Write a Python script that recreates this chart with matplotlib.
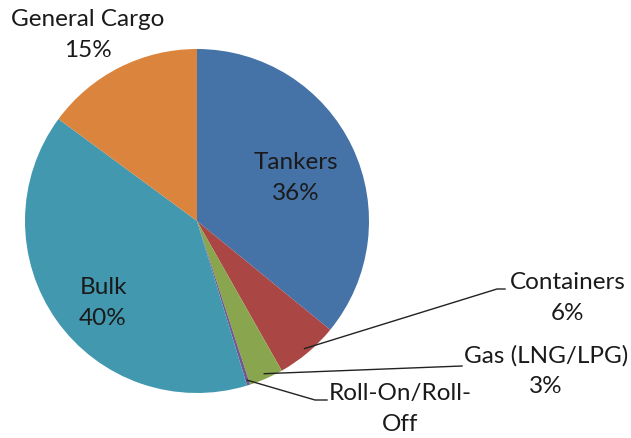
import matplotlib
matplotlib.use('Agg')
import matplotlib.pyplot as plt
import numpy as np

# cargo share of the fleet
categories = ['Tankers', 'Containers', 'Gas (LNG/LPG)', 'Roll-On/Roll-Off', 'Bulk', 'General Cargo']
shares = [35.9, 5.9, 3.2, 0.3, 39.8, 14.9]
labels = ['Tankers\n36%', 'Containers\n6%', 'Gas (LNG/LPG)\n3%', 'Roll-On/Roll-\nOff', 'Bulk\n40%', 'General Cargo\n15%']
colors = ['#4572A7', '#AA4643', '#89A54E', '#71588F', '#4198AF', '#DB843D']

W, H = 631, 438
fig = plt.figure(figsize=(W / 100, H / 100), dpi=100)
ax = fig.add_axes([0, 0, 1, 1])

cx, cy, r = 197, H - 221, 172
wedges, _ = ax.pie(shares, colors=colors, startangle=90, counterclock=False,
                   center=(cx, cy), radius=r, frame=True,
                   wedgeprops=dict(linewidth=0))
ax.set_xlim(0, W)
ax.set_ylim(0, H)
ax.set_aspect('equal')
ax.axis('off')

font = dict(family=['Lato', 'DejaVu Sans'], fontsize=17.5, color='#1a1a1a',
            ha='center', va='center', linespacing=1.6)

# label placement (pixel coords from top), leader elbow if outside
place = {
    'Tankers': (296, 178, None),
    'Bulk': (103, 303, None),
    'General Cargo': (88, 35, None),
    'Containers': (568, 298, (497, 289, 505)),
    'Gas (LNG/LPG)': (546, 371, (462, 366, 462)),
    'Roll-On/Roll-Off': (400, 409, (315, 400, 327)),
}
for w, cat, lab in zip(wedges, categories, labels):
    tx, ty, lead = place[cat]
    ax.text(tx, H - ty, lab, **font)
    if lead is not None:
        mid = np.deg2rad((w.theta1 + w.theta2) / 2)
        sx = cx + 0.97 * r * np.cos(mid)
        sy = cy + 0.97 * r * np.sin(mid)
        ex, ey, hx = lead
        ax.plot([sx, ex, hx], [sy, H - ey, H - ey], color='#222222', lw=1.0)

fig.savefig('out.png', dpi=100)
